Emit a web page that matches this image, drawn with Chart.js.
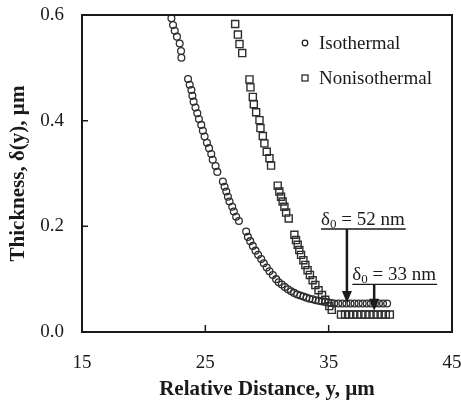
<!DOCTYPE html>
<html>
<head>
<meta charset="utf-8">
<script src="https://cdn.jsdelivr.net/npm/chart.js@4/dist/chart.umd.min.js"></script>
<style>
  html, body { margin: 0; padding: 0; background: #fff; }
  #wrap { width: 461px; height: 402px; }
</style>
</head>
<body>
<div id="wrap"><canvas id="film"></canvas></div>
<script>
// Isothermal film thickness (circles)
const isoX = [22.25, 22.38, 22.52, 22.70, 22.92, 23.03, 23.06,
  23.60, 23.73, 23.87, 23.95, 24.05, 24.20, 24.35, 24.48, 24.67, 24.80, 24.94, 25.13, 25.30, 25.48, 25.60, 25.83, 25.97,
  26.42, 26.56, 26.70, 26.83, 26.96, 27.18, 27.31, 27.50, 27.72,
  28.31, 28.45, 28.64, 28.85, 29.07, 29.28, 29.53, 29.74, 29.98, 30.20, 30.47, 30.74, 30.95,
  31.20, 31.45, 31.70, 31.95, 32.20, 32.45, 32.70, 32.95, 33.20, 33.45, 33.70, 33.95, 34.20, 34.45, 34.70, 34.95, 35.20,
  35.45, 35.78, 36.11, 36.44, 36.77, 37.10, 37.43, 37.76, 38.09, 38.42, 38.75, 39.08, 39.41, 39.74];
const isoY = [0.594, 0.581, 0.570, 0.559, 0.546, 0.532, 0.519,
  0.479, 0.468, 0.458, 0.447, 0.436, 0.425, 0.414, 0.403, 0.392, 0.381, 0.370, 0.358, 0.348, 0.337, 0.326, 0.314, 0.303,
  0.285, 0.275, 0.266, 0.256, 0.247, 0.237, 0.228, 0.218, 0.210,
  0.190, 0.180, 0.172, 0.163, 0.154, 0.146, 0.138, 0.130, 0.122, 0.115, 0.108, 0.100, 0.094,
  0.090, 0.085, 0.081, 0.077, 0.074, 0.071, 0.069, 0.067, 0.065, 0.063, 0.062, 0.060, 0.059, 0.058, 0.057, 0.056, 0.055,
  0.054, 0.054, 0.054, 0.054, 0.054, 0.054, 0.054, 0.054, 0.054, 0.054, 0.054, 0.054, 0.054, 0.054];

// Nonisothermal film thickness (squares)
const nonX = [27.42, 27.64, 27.77, 27.99,
  28.58, 28.66, 28.85, 28.93, 29.12, 29.39, 29.47, 29.66, 29.79, 29.98, 30.20, 30.33,
  30.87, 31.00, 31.14, 31.27, 31.41, 31.55, 31.76,
  32.22, 32.35, 32.49, 32.62, 32.76, 32.95, 33.11, 33.29, 33.48, 33.70, 33.92, 34.18, 34.46, 34.72, 35.05, 35.25,
  36.00, 36.33, 36.66, 36.99, 37.32, 37.65, 37.98, 38.31, 38.64, 38.97, 39.30, 39.63, 39.96];
const nonY = [0.583, 0.563, 0.545, 0.528,
  0.478, 0.463, 0.445, 0.431, 0.416, 0.401, 0.386, 0.371, 0.357, 0.341, 0.329, 0.315,
  0.277, 0.266, 0.256, 0.247, 0.237, 0.226, 0.215,
  0.184, 0.174, 0.165, 0.155, 0.146, 0.136, 0.127, 0.117, 0.108, 0.098, 0.089, 0.079, 0.070, 0.061, 0.049, 0.042,
  0.033, 0.033, 0.033, 0.033, 0.033, 0.033, 0.033, 0.033, 0.033, 0.033, 0.033, 0.033, 0.033];

const seriesNames = ["Isothermal", "Nonisothermal"];
const xTicks = [15, 25, 35, 45];
const yTicks = [0.0, 0.2, 0.4, 0.6];

// delta_0 callouts: label, arrow x, arrow top, arrow tip, text left edge
const calloutText = ["52 nm", "33 nm"];
const calloutX = [36.48, 38.69];
const calloutTop = [0.195, 0.090];
const calloutTip = [0.055, 0.040];
const calloutLeft = [34.38, 36.92];

const serif = "'Liberation Serif', 'Times New Roman', serif";
const ink = "#1a1a1a";

function toPoints(xs, ys) {
  return xs.map((x, i) => ({ x: x, y: ys[i] }));
}

const framePlugin = {
  id: "frame",
  afterDraw(chart) {
    const ctx = chart.ctx;
    const a = chart.chartArea;
    const xs = chart.scales.x, ys = chart.scales.y;
    ctx.save();
    ctx.strokeStyle = ink;
    ctx.lineWidth = 2;
    ctx.strokeRect(a.left, a.top, a.right - a.left, a.bottom - a.top);
    // inward ticks
    ctx.lineWidth = 1.5;
    ctx.beginPath();
    xTicks.slice(1, -1).forEach(v => {
      const px = xs.getPixelForValue(v);
      ctx.moveTo(px, a.bottom); ctx.lineTo(px, a.bottom - 7);
    });
    yTicks.slice(1, -1).forEach(v => {
      const py = ys.getPixelForValue(v);
      ctx.moveTo(a.left, py); ctx.lineTo(a.left + 6, py);
    });
    ctx.stroke();

    // legend
    ctx.font = "19px " + serif;
    ctx.fillStyle = ink;
    ctx.textBaseline = "middle";
    ctx.lineWidth = 1.2;
    const lx = a.right - 147, tx = a.right - 133;
    ctx.beginPath();
    ctx.arc(lx, a.top + 28, 2.8, 0, Math.PI * 2);
    ctx.stroke();
    ctx.strokeRect(lx - 3, a.top + 60, 6, 6);
    ctx.fillText(seriesNames[0], tx, a.top + 29);
    ctx.fillText(seriesNames[1], tx, a.top + 64);

    // callouts
    calloutText.forEach((t, i) => {
      const x0 = xs.getPixelForValue(calloutLeft[i]);
      const yLine = ys.getPixelForValue(calloutTop[i]);
      const ax = xs.getPixelForValue(calloutX[i]);
      const tip = ys.getPixelForValue(calloutTip[i]);
      ctx.textBaseline = "alphabetic";
      ctx.font = "19px " + serif;
      let cx = x0;
      ctx.fillText("\u03b4", cx, yLine - 4);
      cx += ctx.measureText("\u03b4").width;
      ctx.font = "13px " + serif;
      ctx.fillText("0", cx, yLine - 1);
      cx += ctx.measureText("0").width;
      ctx.font = "19px " + serif;
      ctx.fillText(" = " + t, cx, yLine - 4);
      cx += ctx.measureText(" = " + t).width;
      ctx.lineWidth = 1.3;
      ctx.beginPath();
      ctx.moveTo(x0, yLine); ctx.lineTo(cx + 1, yLine);
      ctx.stroke();
      ctx.lineWidth = 2.5;
      ctx.beginPath();
      ctx.moveTo(ax, yLine); ctx.lineTo(ax, tip - 10);
      ctx.stroke();
      ctx.beginPath();
      ctx.moveTo(ax - 5, tip - 12); ctx.lineTo(ax + 5, tip - 12); ctx.lineTo(ax, tip);
      ctx.closePath();
      ctx.fill();
    });
    ctx.restore();
  }
};

new Chart(document.getElementById("film"), {
  type: "scatter",
  data: {
    datasets: [
      {
        label: seriesNames[0],
        data: toPoints(isoX, isoY),
        pointStyle: "circle",
        pointRadius: 3.4,
        borderWidth: 1.3,
        borderColor: "#2e2e2e",
        backgroundColor: "rgba(0,0,0,0)"
      },
      {
        label: seriesNames[1],
        data: toPoints(nonX, nonY),
        pointStyle: "rect",
        pointRadius: 5,
        borderWidth: 1.4,
        borderColor: "#2e2e2e",
        backgroundColor: "rgba(0,0,0,0)"
      }
    ]
  },
  options: {
    responsive: true,
    maintainAspectRatio: false,
    animation: false,
    events: [],
    layout: { padding: { top: 15, right: 9, left: 0, bottom: 0 } },
    plugins: { legend: { display: false }, tooltip: { enabled: false } },
    scales: {
      x: {
        type: "linear",
        min: 15, max: 45,
        afterBuildTicks: s => { s.ticks = xTicks.map(v => ({ value: v })); },
        afterFit: s => { s.height = 70; s.paddingLeft = 0; s.paddingRight = 0; },
        grid: { display: false },
        border: { display: false },
        ticks: { padding: 12, color: ink, font: { family: serif, size: 19 }, maxRotation: 0 },
        title: {
          display: true, text: "Relative Distance, y, \u00b5m",
          color: ink, font: { family: serif, size: 21, weight: "bold" }, padding: { top: 0, bottom: 0 }
        }
      },
      y: {
        type: "linear",
        min: 0, max: 0.6,
        afterBuildTicks: s => { s.ticks = yTicks.map(v => ({ value: v })); },
        afterFit: s => { s.width = 82; s.paddingTop = 0; s.paddingBottom = 0; },
        grid: { display: false },
        border: { display: false },
        ticks: { padding: 10, color: ink, font: { family: serif, size: 19 }, callback: v => v.toFixed(1) },
        title: {
          display: true, text: "Thickness, \u03b4(y), \u00b5m",
          color: ink, font: { family: serif, size: 21, weight: "bold" }, padding: { top: 6, bottom: 0 }
        }
      }
    }
  },
  plugins: [framePlugin]
});
</script>
</body>
</html>
